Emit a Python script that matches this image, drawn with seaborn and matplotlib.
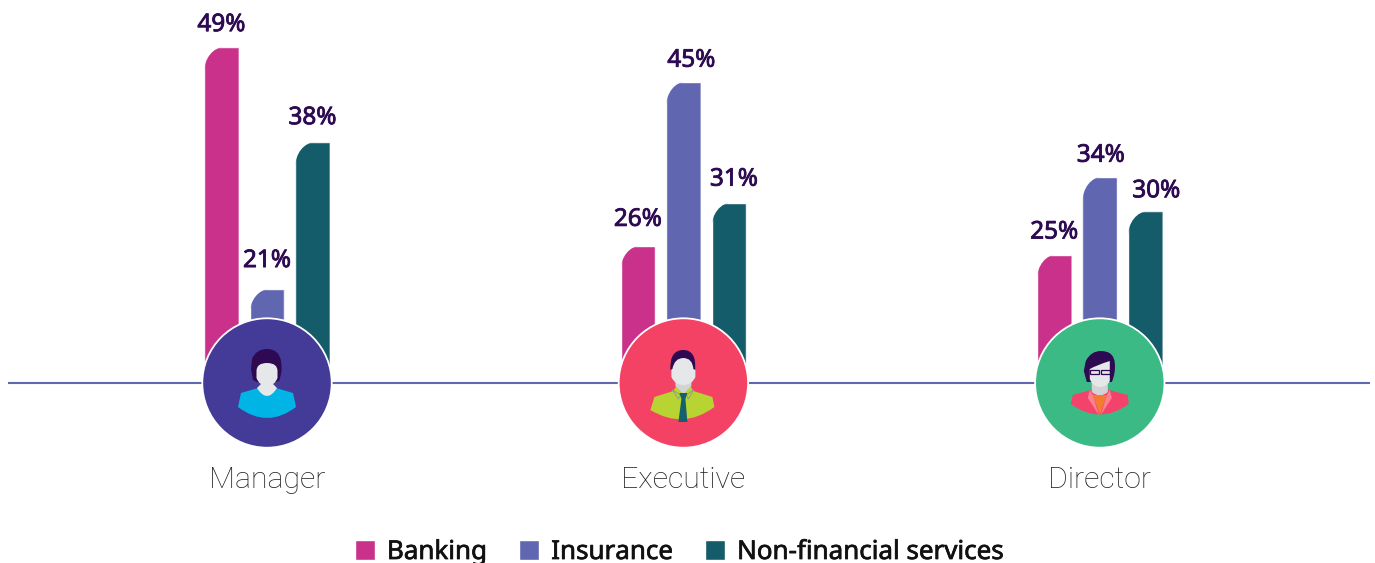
import numpy as np
import pandas as pd
import matplotlib
matplotlib.use("Agg")
import matplotlib.pyplot as plt
import matplotlib.patheffects as pe
from matplotlib.path import Path
from matplotlib.patches import Circle, PathPatch, Rectangle
import seaborn as sns

roles = ["Manager", "Executive", "Director"]
sectors = ["Banking", "Insurance", "Non-financial services"]
banking = [49, 26, 25]
insurance = [21, 45, 34]
non_financial = [38, 31, 30]

colors = ["#c9318a", "#6166b0", "#145c6a"]
circle_colors = ["#443a97", "#f34263", "#3cba85"]
label_color = "#2e0a52"

# nudges of the value labels in pixels (dx, gap above bar), per sector
label_nudges = [
    [(0, 16), (0, 20), (0, 16)],
    [(0, 22), (8, 15), (1, 15)],
    [(0, 18), (5, 17), (11, 14)],
]

W, H = 1375, 563
BASE_Y = 383
CENTERS = [267.0, 683.4, 1099.8]
PX_PER_CAT = 416.4
PX_PER_UNIT = 8.64
ZERO_Y = 470.5

sns.set_theme(style="white")
plt.rcParams["font.family"] = ["Noto Sans", "DejaVu Sans"]

df = pd.DataFrame({
    "role": roles * 3,
    "sector": np.repeat(sectors, 3),
    "share": banking + insurance + non_financial,
})

fig = plt.figure(figsize=(W / 100, H / 100), dpi=100)
ax = fig.add_axes([0, 1 - BASE_Y / H, 1, BASE_Y / H])
sns.barplot(data=df, x="role", y="share", hue="sector", order=roles, hue_order=sectors,
            palette=colors, saturation=1, width=0.328, gap=0.24, ax=ax)

ax.set_xlim(-CENTERS[0] / PX_PER_CAT, (W - CENTERS[0]) / PX_PER_CAT)
ax.set_ylim((ZERO_Y - BASE_Y) / PX_PER_UNIT, ZERO_Y / PX_PER_UNIT)
ax.set_xlabel("")
ax.set_ylabel("")
ax.set_yticks([])
sns.despine(ax=ax, left=True, bottom=True)
ax.patch.set_visible(False)
ax.tick_params(axis="x", length=0, pad=60, labelsize=21.8, labelcolor="#222222")
for t in ax.get_xticklabels():
    t.set_fontfamily("Roboto")
    t.set_fontweight("light")

# rounded top left corner of each bar, value labels
rx = 20 / PX_PER_CAT
ry = 25 / PX_PER_UNIT
k = 0.45
stroke = [pe.withStroke(linewidth=0.6, foreground=label_color)]
for cont, nudges in zip(ax.containers, label_nudges):
    for bar, (dx, gap) in zip(cont, nudges):
        x0, w = bar.get_x(), bar.get_width()
        top = bar.get_height()
        verts = [(x0, 0), (x0, top - ry), (x0, top - ry * k), (x0 + rx * k, top), (x0 + rx, top),
                 (x0 + w, top), (x0 + w, 0), (x0, 0)]
        codes = [Path.MOVETO, Path.LINETO, Path.CURVE4, Path.CURVE4, Path.CURVE4,
                 Path.LINETO, Path.LINETO, Path.CLOSEPOLY]
        bar.set_clip_path(Path(verts, codes), transform=ax.transData)
        ax.annotate(f"{top:.0f}%", (x0 + w / 2, top), xytext=(dx * 0.72, gap * 0.72),
                    textcoords="offset points", ha="center", va="baseline", fontsize=17.5,
                    color=label_color, annotation_clip=False, path_effects=stroke)

sns.move_legend(ax, "lower left", bbox_to_anchor=(342 / W, -15 / H), bbox_transform=fig.transFigure,
                ncols=3, title=None, frameon=False, handlelength=0.77, handleheight=0.77,
                handletextpad=0.46, columnspacing=1.23, borderpad=0, labelcolor="#111111",
                prop={"size": 18.7})
for t in ax.get_legend().get_texts():
    t.set_path_effects([pe.withStroke(linewidth=0.5, foreground="#111111")])

# overlay in pixel coordinates for the axis line and the avatars
over = fig.add_axes([0, 0, 1, 1], zorder=5)
over.set_xlim(0, W)
over.set_ylim(H, 0)
over.axis("off")
over.plot([8, 1370], [BASE_Y, BASE_Y], color="#6166b0", lw=1.5, solid_capstyle="butt", zorder=1)

HAIR = "#2e0a52"
SKIN = "#e6e7e8"
NECK = "#d1d3d4"


def curve(cx, pts, color, z=3):
    # pts: M/L points as (x, y), quadratic segments as (cx, cy, x, y)
    verts, codes = [], []
    for i, p in enumerate(pts):
        if len(p) == 2:
            verts.append(p)
            codes.append(Path.MOVETO if i == 0 else Path.LINETO)
        else:
            verts += [p[:2], p[2:]]
            codes += [Path.CURVE3, Path.CURVE3]
    verts = np.array(verts, dtype=float) + [cx, BASE_Y]
    over.add_patch(PathPatch(Path(verts, codes), fc=color, ec="none", zorder=z))


def face(cx, w, top, chin, color=SKIN, z=4):
    curve(cx, [(-w, top + 8), (-w, top, 0, top), (w, top, w, top + 8), (w, chin - 8), (w * 0.7, chin, 0, chin),
               (-w * 0.7, chin, -w, chin - 8), (-w, top + 8)], color, z)


def woman(cx):
    curve(cx, [(-14, -3), (-16, -14), (-15, -24), (-11, -34, 0, -34), (12, -34, 14, -22), (16, -12, 12, -2),
               (8, -1), (-10, -1), (-14, -3)], HAIR)
    curve(cx, [(-29, 24), (-26, 10), (-9, 5), (9, 5), (26, 10), (29, 24), (0, 46, -29, 24)], "#00b5e5")
    curve(cx, [(-6, -6), (6, -6), (6, 1), (10, 5), (0, 21, -10, 5), (-6, 1)], SKIN, 4)
    face(cx, 10.5, -20, 3)


def man(cx):
    curve(cx, [(-33, 27), (-29, 14), (-10, 8), (-7, 3), (7, 3), (10, 8), (29, 14), (31, 24), (0, 47, -33, 27)],
          "#b8d432")
    curve(cx, [(-8, -3), (8, -3), (8, 3), (0, 11), (-8, 3)], NECK, 4)
    over.plot([cx - 11, cx - 3, cx - 5, cx - 11], [BASE_Y + 7, BASE_Y + 12, BASE_Y + 16, BASE_Y + 7],
              color="#8f9a8a", lw=0.6, zorder=4.5)
    over.plot([cx + 10, cx + 3, cx + 5, cx + 10], [BASE_Y + 7, BASE_Y + 12, BASE_Y + 16, BASE_Y + 7],
              color="#8f9a8a", lw=0.6, zorder=4.5)
    curve(cx, [(-4, 10), (4, 10), (2, 16), (4, 39), (-5, 39), (-2, 16)], "#14606d", 5)
    face(cx, 12, -25, 2, z=5)
    curve(cx, [(-13, -13), (-14, -33, 0, -33), (13, -33, 12, -13), (10, -14), (9, -25, 0, -25), (-9, -25, -11, -14)],
          HAIR, 6)


def director(cx):
    curve(cx, [(-13, -1), (-16, -12), (-14, -22), (-9, -32, 1, -32), (14, -32, 15, -20), (16, -10, 12, -1),
               (-9, -1), (-13, -1)], HAIR)
    curve(cx, [(-29, 21), (-27, 12), (-9, 7), (9, 7), (28, 12), (29, 21), (0, 42, -29, 21)], "#f4436a")
    curve(cx, [(-8, -2), (8, -2), (8, 9), (0, 16, -8, 9)], NECK, 4)
    curve(cx, [(-7, 12), (7, 12), (0, 32)], "#f47b30", 5)
    curve(cx, [(-10, 7), (-7, 12), (-1, 32), (-12, 15)], "#fb8092", 5)
    curve(cx, [(10, 7), (7, 12), (1, 32), (12, 15)], "#fb8092", 5)
    curve(cx, [(-10, -14), (-3, -18, 10, -22), (10, -2), (7, 4, 0, 4), (-7, 4, -10, -4), (-10, -14)], SKIN, 5)
    for x in (-9.5, 1):
        over.add_patch(Rectangle((cx + x, BASE_Y - 13), 9, 4, fc="none", ec=HAIR, lw=0.9, zorder=6))


for cx, c, draw in zip(CENTERS, circle_colors, [woman, man, director]):
    over.add_patch(Circle((cx, BASE_Y), 65.6, fc="white", ec="none", zorder=2))
    over.add_patch(Circle((cx, BASE_Y), 63.8, fc=c, ec="none", zorder=2.5))
    draw(cx)

fig.savefig("out.png", dpi=100)
